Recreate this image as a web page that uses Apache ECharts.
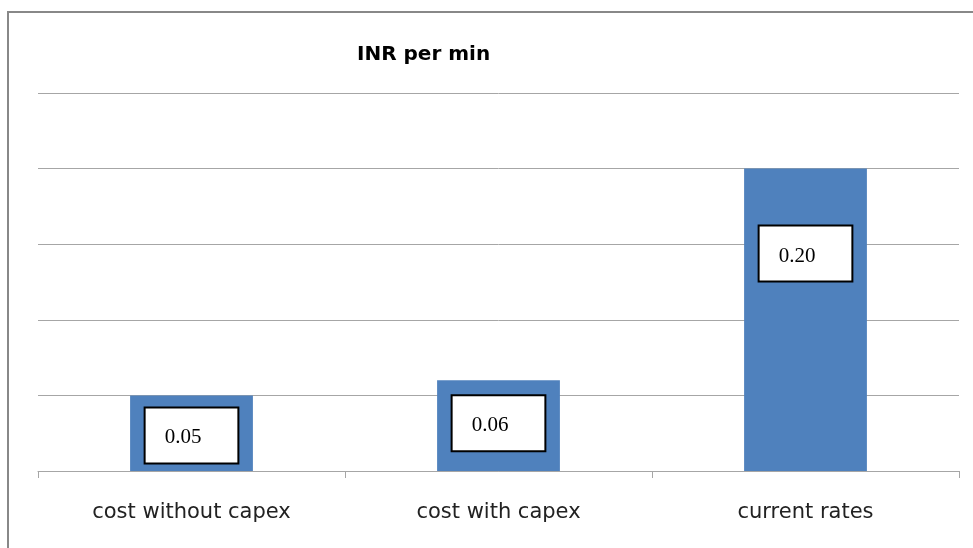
<!DOCTYPE html>
<html>
<head>
<meta charset="utf-8">
<script src="https://cdn.jsdelivr.net/npm/echarts@6/dist/echarts.min.js"></script>
<style>
  html, body { margin: 0; padding: 0; background: #fff; }
  #main { width: 973px; height: 548px; }
</style>
</head>
<body>
<div id="main"></div>
<script>
var categories = ['cost without capex', 'cost with capex', 'current rates'];
var values = [0.05, 0.06, 0.20];
// how far each value box sits below the top of its bar
var labelDistances = [13, 16, 58];

var chart = echarts.init(document.getElementById('main'));

var seriesData = values.map(function (v, i) {
  return { value: v, label: { distance: labelDistances[i] } };
});

var option = {
  animation: false,
  backgroundColor: '#fff',
  title: {
    text: 'INR per min',
    left: 352,
    top: 40,
    textStyle: {
      fontFamily: 'DejaVu Sans',
      fontSize: 20,
      fontWeight: 'bold',
      color: '#000'
    }
  },
  graphic: [{
    type: 'rect',
    shape: { x: 8, y: 12, width: 1000, height: 600 },
    style: { fill: null, stroke: '#888', lineWidth: 2 }
  }],
  grid: { left: 38, right: 14, top: 93, bottom: 77 },
  xAxis: {
    type: 'category',
    data: categories,
    axisLine: { lineStyle: { color: '#a6a6a6', width: 1 } },
    axisTick: { show: true, length: 7, lineStyle: { color: '#a6a6a6' } },
    axisLabel: {
      margin: 31,
      fontFamily: 'DejaVu Sans',
      fontSize: 21,
      color: '#222'
    }
  },
  yAxis: {
    type: 'value',
    min: 0,
    max: 0.25,
    interval: 0.05,
    axisLabel: { show: false },
    axisLine: { show: false },
    axisTick: { show: false },
    splitLine: { lineStyle: { color: '#a6a6a6', width: 1 } }
  },
  series: [{
    type: 'bar',
    data: seriesData,
    barWidth: '40%',
    itemStyle: { color: '#4f81bd' },
    label: {
      show: true,
      position: 'insideTop',
      formatter: function (p) { return p.value.toFixed(2); },
      fontFamily: 'Liberation Serif',
      fontSize: 21,
      lineHeight: 21,
      color: '#000',
      backgroundColor: '#fff',
      borderColor: '#000',
      borderWidth: 2,
      padding: [19, 36, 14, 19]
    }
  }]
};

chart.setOption(option);
</script>
</body>
</html>
